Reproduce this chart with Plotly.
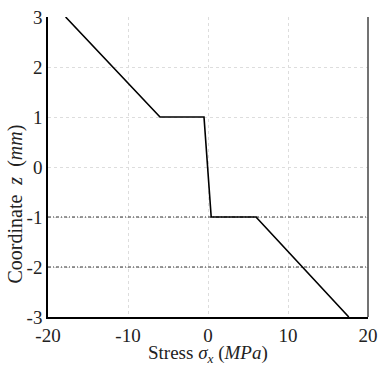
import plotly.graph_objects as go

stress = [-17.8, -6.0, -0.5, 0.4, 6.0, 17.6]
coord = [3, 1, 1, -1, -1, -3]
x_ticks = [-20, -10, 0, 10, 20]
x_labels = ["-20", "-10", "0", "10", "20"]
y_ticks = [-3, -2, -1, 0, 1, 2, 3]
y_labels = ["-3", "-2", "-1", "0", "1", "2", "3"]
dark_grid_y = [-1, -2]

font = "Liberation Serif, Times New Roman, serif"
fig = go.Figure()
for gy in dark_grid_y:
    fig.add_trace(go.Scatter(x=[-20, 20], y=[gy, gy], mode="lines",
                             line=dict(color="#333333", width=1, dash="3px,2px,1px,2px"),
                             showlegend=False, hoverinfo="skip"))
fig.add_trace(go.Scatter(x=stress, y=coord, mode="lines",
                         line=dict(color="black", width=1.6), showlegend=False))

fig.add_shape(type="line", xref="paper", yref="paper", x0=1, x1=1, y0=0, y1=1,
              line=dict(color="#444444", width=1.5))

fig.add_annotation(text="Coordinate\u00a0\u00a0<i>z</i>\u00a0\u00a0(<i>mm</i>)",
                   xref="paper", yref="paper", x=-0.103, y=0.375, textangle=-90,
                   showarrow=False, xanchor="center", yanchor="middle",
                   font=dict(size=20, family=font, color="#222222"))
fig.add_annotation(text="Stress <i>σ<sub>x</sub></i> (<i>MPa</i>)",
                   xref="paper", yref="paper", x=0.5, y=-0.122,
                   showarrow=False, xanchor="center", yanchor="middle",
                   font=dict(size=19, family=font, color="#222222"))

fig.update_layout(
    width=379, height=365, margin=dict(l=48, r=11, t=17, b=48),
    paper_bgcolor="white", plot_bgcolor="white",
    font=dict(family=font, size=19, color="#222222"),
    xaxis=dict(range=[-20, 20], tickvals=x_ticks, ticktext=x_labels, showgrid=True,
               gridcolor="#dddddd", griddash="dot", gridwidth=1, automargin=False,
               showline=True, linecolor="black", linewidth=1.5, zeroline=False,
               ticks="", ticklabeloverflow="allow"),
    yaxis=dict(range=[-3, 3], tickvals=y_ticks, ticktext=y_labels, showgrid=True,
               gridcolor="#dddddd", griddash="dot", gridwidth=1, automargin=False,
               showline=True, linecolor="black", linewidth=1.5, zeroline=False,
               ticks="", ticklabeloverflow="allow"),
)
fig.write_html("out.html", config={"displayModeBar": False},
               post_script="document.body.style.margin='0';document.body.style.overflow='hidden';")
